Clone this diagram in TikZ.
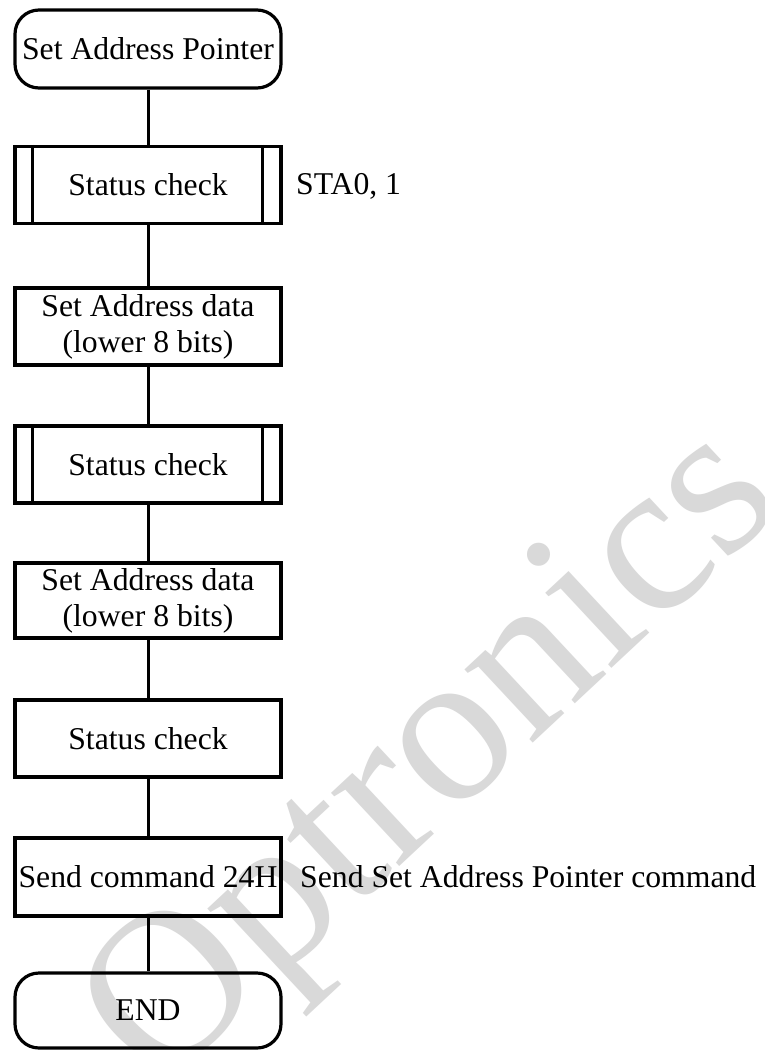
\documentclass[tikz,border=0pt]{standalone}
\usepackage{fontspec}
\setmainfont{Liberation Serif}
\newcommand\fs{\fontsize{31.7}{36}\selectfont}
\tikzset{
  box/.style={draw, line width=3.2pt, minimum width=266pt, inner sep=1pt, align=center, font=\fs},
  term/.style={box, rounded corners=24pt, minimum height=78pt},
  proc/.style={box, minimum height=77pt},
  link/.style={line width=3pt},
  bar/.style={line width=3pt},
  note/.style={anchor=west, inner sep=0pt, font=\fs},
  wmark/.style={rotate=43, anchor=base west, inner sep=0pt, text=gray!30, font=\fontsize{218}{218}\selectfont}
}
\begin{document}
\begin{tikzpicture}[x=1pt,y=-1pt]
\fill[white] (0,0) rectangle (765,1050);
\useasboundingbox (0,0) rectangle (765,1050);
\begin{scope}
  \clip (0,0) rectangle (765,1050);
  \node[wmark] (wm) at (157,1093) {Optronics};
\end{scope}

\node[term] (start) at (148,49) {Set Address Pointer};
\node[proc] (sc1) at (148,185) {Status check};
\node[proc] (sad1) at (148,326.5) {Set Address data\\(lower 8 bits)};
\node[proc] (sc2) at (148,464.5) {Status check};
\node[proc, minimum height=75pt] (sad2) at (148,600.5) {Set Address data\\(lower 8 bits)};
\node[proc] (sc3) at (148,738.5) {Status check};
\node[proc, minimum height=78pt] (send) at (148,877) {Send command 24H};
\node[term, minimum height=75pt] (end) at (148,1010.5) {END};

\foreach \n in {sc1,sc2}{
  \draw[bar] ([xshift=19pt]\n.north west) -- ([xshift=19pt]\n.south west);
  \draw[bar] ([xshift=-20pt]\n.north east) -- ([xshift=-20pt]\n.south east);
}

\draw[link] (start) -- (sc1);
\draw[link] (sc1) -- (sad1);
\draw[link] (sad1) -- (sc2);
\draw[link] (sc2) -- (sad2);
\draw[link] (sad2) -- (sc3);
\draw[link] (sc3) -- (send);
\draw[link] (send) -- (end);

\node[note] (n1) at (296,186) {STA0, 1};
\node[note] (n2) at (300,877) {Send Set Address Pointer command};
\end{tikzpicture}
\end{document}
